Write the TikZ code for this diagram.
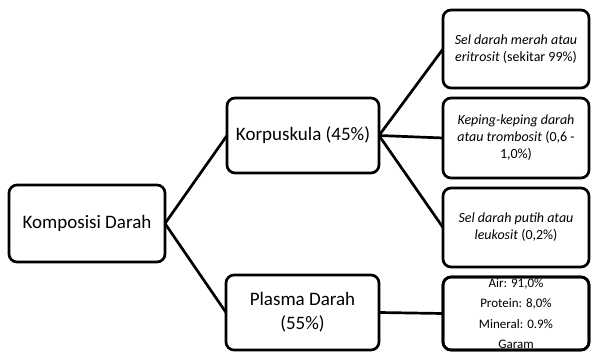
\documentclass[tikz,border=0pt]{standalone}
\usepackage{fontspec}
\setmainfont{Carlito}
\begin{document}
\begin{tikzpicture}[x=1pt,y=-1pt,
  box/.style={draw=black, line width=2.7pt, rounded corners=8pt, fill=white, align=center, inner sep=0pt, outer sep=0pt},
  big/.style={font=\fontsize{19}{24}\selectfont},
  small/.style={font=\fontsize{14}{17}\selectfont},
  tiny/.style={font=\fontsize{13}{20.5}\selectfont},
  link/.style={line width=2.7pt}]
\useasboundingbox (0,0) rectangle (591,352);
\node[box, big, minimum width=156, minimum height=77] (kd) at (87,223.5) {Komposisi Darah};
\node[box, big, minimum width=152, minimum height=75] (kor) at (303,135.5) {Korpuskula (45\%)};
\node[box, big, minimum width=153, minimum height=75] (pla) at (302.5,312.5) {Plasma Darah\\(55\%)};
\node[box, small, minimum width=146, minimum height=78] (b1) at (516,49) {\textit{Sel darah merah atau}\\\textit{eritrosit} (sekitar 99\%)};
\node[box, small, minimum width=146, minimum height=80] (b2) at (516,138) {\textit{Keping-keping darah}\\\textit{atau trombosit} (0,6 -\\1,0\%)};
\node[box, small, minimum width=146, minimum height=79] (b3) at (516,227.5) {\textit{Sel darah putih atau}\\\textit{leukosit} (0,2\%)};
\node[box, tiny, minimum width=146, minimum height=73] (b4) at (516,313.5) {Air: 91,0\%\\Protein: 8,0\%\\Mineral: 0.9\%\\Garam};
\draw[line width=2.7pt, rounded corners=8pt] (b4.north west) rectangle (b4.south east);
\draw[link] (kd.east) -- (kor.west);
\draw[link] (kd.east) -- (pla.west);
\draw[link] (kor.east) -- (b1.west);
\draw[link] (kor.east) -- (b2.west);
\draw[link] (kor.east) -- (b3.west);
\draw[link] (pla.east) -- (b4.west);
\end{tikzpicture}
\end{document}
